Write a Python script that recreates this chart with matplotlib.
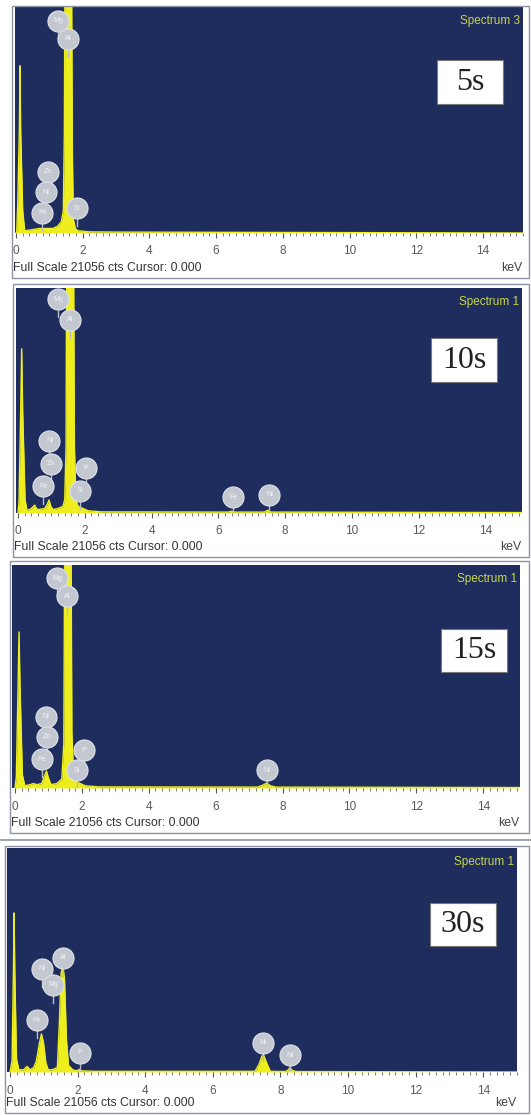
import matplotlib
matplotlib.use('Agg')
import matplotlib.pyplot as plt
from matplotlib.patches import Rectangle
from matplotlib.ticker import MultipleLocator

W, H = 531, 1115
NAVY = '#1f2d5e'
YEL = '#eeee1e'

# spectra: energy (keV) and intensity as fraction of full scale (21056 cts)
e_5s = [0.0, 0.02, 0.05, 0.10, 0.12, 0.14, 0.20, 0.26, 0.5, 0.7, 0.9, 1.1, 1.25, 1.36, 1.42,
        1.45, 1.47, 1.66, 1.69, 1.72, 1.78, 1.85, 2.2, 3.0, 15.2]
c_5s = [0.0, 0.0, 0.12, 0.45, 0.74, 0.45, 0.10, 0.01, 0.015, 0.02, 0.02, 0.02, 0.03, 0.05, 0.10,
        0.45, 1.30, 1.30, 0.35, 0.06, 0.02, 0.01, 0.005, 0.004, 0.0]

e_10s = [0.0, 0.03, 0.08, 0.11, 0.14, 0.21, 0.27, 0.4, 0.5, 0.55, 0.6, 0.8, 0.88, 0.93, 0.98,
         1.05, 1.2, 1.35, 1.40, 1.44, 1.46, 1.66, 1.69, 1.73, 1.8, 1.95, 2.1, 2.5, 6.3, 6.4,
         6.5, 7.38, 7.48, 7.58, 15.2]
c_10s = [0.0, 0.05, 0.45, 0.73, 0.45, 0.06, 0.01, 0.02, 0.035, 0.02, 0.015, 0.02, 0.04, 0.058, 0.03,
         0.015, 0.02, 0.03, 0.06, 0.30, 1.30, 1.30, 0.30, 0.06, 0.03, 0.02, 0.01, 0.005, 0.004, 0.008,
         0.004, 0.004, 0.012, 0.004, 0.002]

e_15s = [0.0, 0.04, 0.09, 0.12, 0.15, 0.22, 0.29, 0.45, 0.55, 0.65, 0.8, 0.87, 0.94, 1.01, 1.08,
         1.25, 1.4, 1.46, 1.49, 1.67, 1.70, 1.75, 1.82, 1.95, 2.1, 2.5, 7.25, 7.40, 7.52, 7.64,
         7.8, 15.2]
c_15s = [0.0, 0.05, 0.45, 0.70, 0.45, 0.06, 0.01, 0.015, 0.02, 0.015, 0.02, 0.05, 0.076, 0.04, 0.015,
         0.02, 0.04, 0.20, 1.30, 1.30, 0.25, 0.06, 0.03, 0.02, 0.01, 0.005, 0.004, 0.012, 0.022, 0.01,
         0.004, 0.002]

e_30s = [0.0, 0.06, 0.10, 0.12, 0.14, 0.19, 0.26, 0.4, 0.5, 0.6, 0.7, 0.78, 0.87, 0.93, 0.99,
         1.06, 1.13, 1.25, 1.40, 1.46, 1.51, 1.56, 1.61, 1.67, 1.73, 1.85, 1.98, 2.04, 2.12, 2.5,
         7.25, 7.37, 7.45, 7.50, 7.58, 7.70, 8.15, 8.24, 8.28, 8.34, 8.45, 15.2]
c_30s = [0.0, 0.05, 0.45, 0.71, 0.45, 0.06, 0.01, 0.01, 0.025, 0.01, 0.02, 0.05, 0.13, 0.17, 0.13,
         0.04, 0.01, 0.01, 0.02, 0.22, 0.44, 0.47, 0.42, 0.14, 0.03, 0.01, 0.005, 0.012, 0.005, 0.003,
         0.003, 0.035, 0.07, 0.076, 0.045, 0.003, 0.002, 0.01, 0.02, 0.008, 0.002, 0.0]

# peak markers: element, energy, label height
lab_5s = [('Mg', 1.26, 0.94), ('Al', 1.56, 0.86), ('Zn', 0.96, 0.27), ('Ni', 0.90, 0.18),
          ('Fe', 0.78, 0.09), ('Si', 1.83, 0.11)]
lab_10s = [('Mg', 1.21, 0.95), ('Al', 1.56, 0.86), ('Ni', 0.94, 0.32), ('Zn', 0.98, 0.22),
           ('Fe', 0.76, 0.12), ('P', 2.04, 0.20), ('Si', 1.86, 0.10), ('Fe', 6.45, 0.07),
           ('Ni', 7.53, 0.08)]
lab_15s = [('Mg', 1.25, 0.94), ('Al', 1.55, 0.86), ('Ni', 0.92, 0.32), ('Zn', 0.95, 0.23),
           ('Fe', 0.80, 0.13), ('P', 2.06, 0.17), ('Si', 1.85, 0.08), ('Ni', 7.53, 0.08)]
lab_30s = [('Al', 1.56, 0.51), ('Ni', 0.94, 0.46), ('Mg', 1.28, 0.39), ('Fe', 0.79, 0.23),
           ('P', 2.07, 0.085), ('Ni', 7.49, 0.13), ('Ni', 8.28, 0.075)]

times = ['5s', '10s', '15s', '30s']
spec_names = ['Spectrum 3', 'Spectrum 1', 'Spectrum 1', 'Spectrum 1']
energies = [e_5s, e_10s, e_15s, e_30s]
counts = [c_5s, c_10s, c_15s, c_30s]
labels = [lab_5s, lab_10s, lab_15s, lab_30s]

# layout in pixels: plot area (x0, x1, y0, y1), frame (x0, x1, y0, y1), time box centre
plot_px = [(15, 523, 7, 233), (16, 522, 288, 513), (12, 520, 565, 788), (7, 517, 848, 1072)]
frame_px = [(12, 529, 6, 278), (13, 529, 284, 557), (10, 529, 561, 833), (5, 529, 846, 1113)]
box_px = [(470, 82), (464, 360), (474, 650), (463, 924)]
xmin = [-0.03, -0.06, -0.09, -0.09]
xmax = [15.2, 15.1, 15.1, 15.0]

fig = plt.figure(figsize=(W / 100, H / 100), dpi=100)
fig.patch.set_facecolor('white')


def fx(px):
    return px / W


def fy(py):
    return 1 - py / H


# grey separator above the last panel
fig.add_artist(plt.Line2D([0, 1], [fy(840), fy(840)], color='#8d93a3', lw=1.2))

for i in range(4):
    x0, x1, y0, y1 = plot_px[i]
    ax = fig.add_axes([fx(x0), fy(y1), (x1 - x0) / W, (y1 - y0) / H])
    ax.set_facecolor(NAVY)
    ax.fill_between(energies[i], counts[i], 0, color=YEL, lw=0)
    ax.plot(energies[i], counts[i], color=YEL, lw=1.0)
    ax.set_xlim(xmin[i], xmax[i])
    ax.set_ylim(0, 1)
    ax.set_yticks([])
    ax.set_xticks(range(0, 15, 2))
    ax.xaxis.set_minor_locator(MultipleLocator(0.2))
    ax.tick_params(axis='x', which='major', length=3.5, width=0.8, color='#555555',
                   labelsize=8.5, labelcolor='#5a5a5a', pad=5.5)
    ax.tick_params(axis='x', which='minor', length=2, width=0.6, color='#666666')
    for lbl in ax.get_xticklabels():
        lbl.set_fontfamily('Liberation Sans')
    for s in ax.spines.values():
        s.set_visible(False)

    # element markers
    for name, e, h in labels[i]:
        ax.plot([e, e], [h - 0.045, h - 0.08], color='#b8bcc6', lw=1)
        ax.scatter([e], [h], s=230, color='#c3c7cf', edgecolors='#dfe2e8', linewidths=0.8, zorder=5)
        ax.text(e, h, name, fontsize=5, color='#f4f4f4', ha='center', va='center',
                family='Liberation Sans', zorder=6)

    ax.text(0.995, 0.965, spec_names[i], transform=ax.transAxes, ha='right', va='top',
            fontsize=8.5, color='#c8d548', family='Liberation Sans')

    # time label box
    bx, by = box_px[i]
    bw, bh = 66, 43
    fig.add_artist(Rectangle((fx(bx - bw / 2), fy(by + bh / 2)), bw / W, bh / H,
                             facecolor='white', edgecolor='#777777', lw=0.8))
    fig.text(fx(bx), fy(by), times[i], ha='center', va='center', fontsize=23,
             family='Liberation Serif', color='#222222')

    # bottom caption
    fx0, fx1, fy0, fy1 = frame_px[i]
    fig.text(fx(fx0 + 1), fy(fy1 - 10), 'Full Scale 21056 cts Cursor: 0.000', ha='left',
             va='center', fontsize=8.8, color='#333333', family='Liberation Sans')
    fig.text(fx(x1 - 1), fy(fy1 - 10), 'keV', ha='right', va='center', fontsize=8.8,
             color='#444444', family='Liberation Sans')

    fig.add_artist(Rectangle((fx(fx0), fy(fy1)), (fx1 - fx0) / W, (fy1 - fy0) / H,
                             facecolor='none', edgecolor='#8d93a3', lw=1.0))

fig.savefig('out.png', dpi=100)
